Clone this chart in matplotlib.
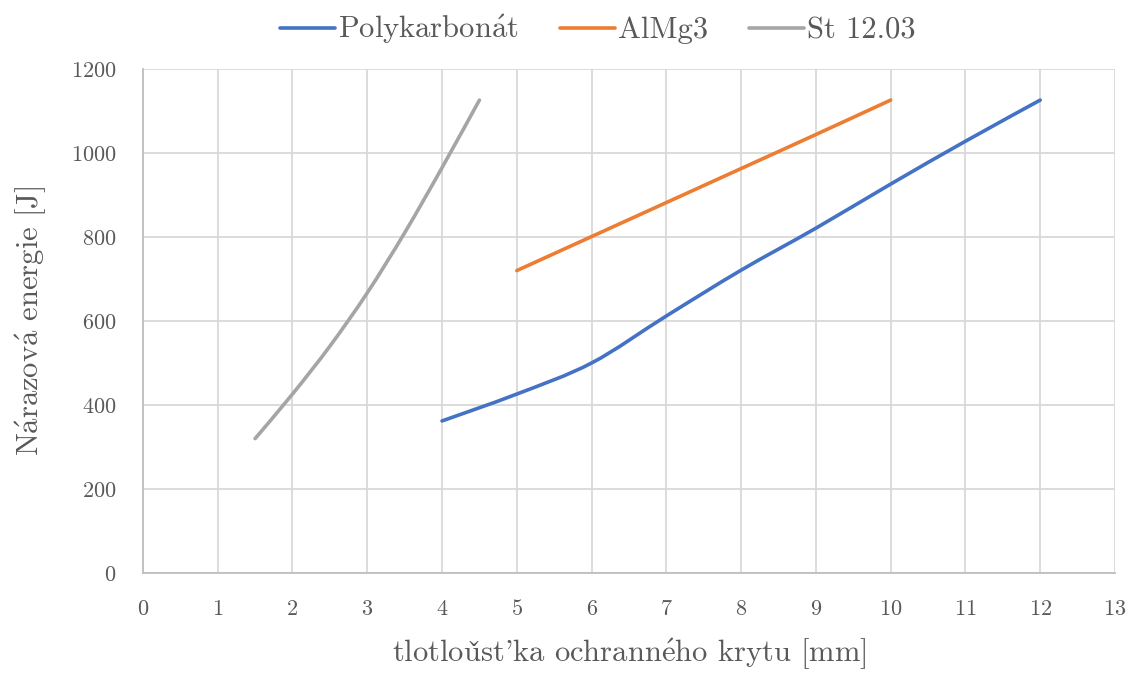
import matplotlib
matplotlib.use("Agg")
import matplotlib.pyplot as plt
from matplotlib.path import Path
from matplotlib.patches import PathPatch
import numpy as np

plt.rcParams['font.family'] = ['cmr10', 'DejaVu Serif']
plt.rcParams['mathtext.fontset'] = 'cm'
plt.rcParams['axes.formatter.use_mathtext'] = True

poly_x = [4, 5, 6, 7, 8, 9, 10, 11, 12]
poly_y = [362, 426, 500, 612, 721, 821, 926, 1028, 1126]
al_x = [5, 6, 7, 8, 9, 10]
al_y = [720, 801, 882, 963, 1044, 1126]
st_x = [1.5, 2, 2.5, 3, 3.5, 4, 4.5]
st_y = [320, 426, 540, 667, 810, 965, 1126]

series = [(r"Polykarbon$\mathrm{\acute{a}}$t", poly_x, poly_y, "#4472C4"),
          ("AlMg3", al_x, al_y, "#ED7D31"),
          ("St 12.03", st_x, st_y, "#A5A5A5")]

xticks = list(range(0, 14))
yticks = [0, 200, 400, 600, 800, 1000, 1200]
text_color = "#595959"
xlabel = r"tlotlou$\mathrm{\check{s}}$t'ka ochrann$\mathrm{\acute{e}}$ho krytu [mm]"
ylabel = r"N$\mathrm{\acute{a}}$razov$\mathrm{\acute{a}}$ energie [J]"


def smooth_path(x, y, t=1/6):
    p = np.column_stack([x, y]).astype(float)
    n = len(p)
    verts = [p[0]]
    codes = [Path.MOVETO]
    for i in range(n - 1):
        p0 = p[i - 1] if i > 0 else p[i]
        p1 = p[i]
        p2 = p[i + 1]
        p3 = p[i + 2] if i + 2 < n else p[i + 1]
        c1 = p1 + (p2 - p0) * t
        c2 = p2 - (p3 - p1) * t
        verts += [c1, c2, p2]
        codes += [Path.CURVE4] * 3
    return Path(verts, codes)


fig = plt.figure(figsize=(11.3, 6.74), dpi=100)
ax = fig.add_axes([0.1265, 0.1499, 0.8602, 0.7477])

for name, x, y, c in series:
    patch = PathPatch(smooth_path(x, y), facecolor='none', edgecolor=c,
                      lw=2.6, capstyle='round', joinstyle='round', zorder=3)
    ax.add_patch(patch)
    ax.plot([], [], color=c, lw=2.6, label=name, solid_capstyle='round')

ax.set_xlim(0, 13)
ax.set_ylim(0, 1200)
ax.set_xticks(xticks)
ax.set_yticks(yticks)
ax.grid(True, color="#D9D9D9", lw=1.3)
ax.set_axisbelow(True)
for s in ["top", "right"]:
    ax.spines[s].set_visible(False)
for s in ["left", "bottom"]:
    ax.spines[s].set_color("#BFBFBF")
    ax.spines[s].set_linewidth(1.3)
ax.tick_params(length=0, labelsize=16, colors=text_color)
ax.tick_params(axis='x', pad=19)
ax.tick_params(axis='y', pad=19)
ax.set_xlabel(xlabel, fontsize=22, color=text_color, labelpad=12)
ax.set_ylabel(ylabel, fontsize=22, color=text_color, labelpad=16)

leg = fig.legend(loc="upper center", bbox_to_anchor=(0.529, 1.022), ncol=3, frameon=False,
                 fontsize=22, handlelength=1.8, handletextpad=0.1, columnspacing=1.35)
for t in leg.get_texts():
    t.set_color(text_color)

fig.savefig("out.png", dpi=100)
